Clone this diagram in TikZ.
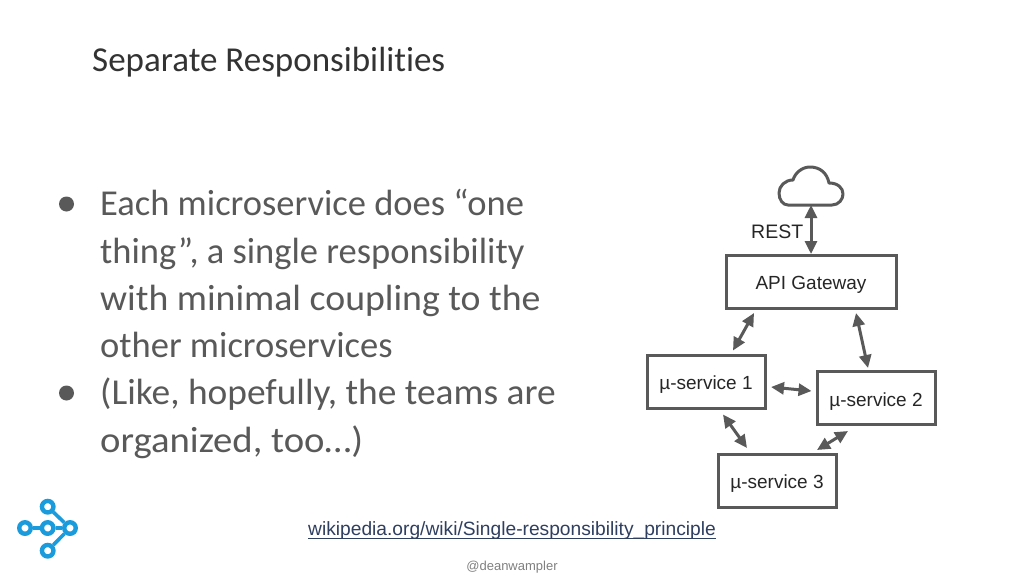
\documentclass[tikz,border=0pt]{standalone}
\usepackage{fontspec}
\setmainfont{Carlito}[Ligatures=NoCommon]
\newfontfamily\arialf{Liberation Sans}
\usetikzlibrary{arrows.meta}
\definecolor{ink}{HTML}{595959}
\definecolor{logoblue}{HTML}{1A9BDC}
\definecolor{linkc}{HTML}{2F3F60}
\tikzset{
  x=1pt,y=-1pt,
  svc/.style={draw=ink,line width=3pt,fill=white,minimum width=118pt,minimum height=53pt,inner sep=0pt,font=\arialf\fontsize{19}{21}\selectfont,text=black!85,text height=15pt,text depth=0pt},
  gate/.style={svc,minimum width=170pt},
  dbl/.style={draw=ink,line width=3pt,{Triangle[length=13pt,width=12pt]}-{Triangle[length=13pt,width=12pt]}},
  bodyline/.style={anchor=base west,inner sep=0pt,text=ink,font=\fontsize{36.5}{40}\selectfont},
  bulletdot/.style={circle,fill=ink,draw=none,minimum size=15pt,inner sep=0pt},
  ringn/.style={circle,draw=logoblue,line width=4.4pt,fill=white,minimum size=11.5pt,inner sep=0pt},
  logoline/.style={draw=logoblue,line width=3.6pt},
}
\begin{document}
\begin{tikzpicture}
\useasboundingbox (0,0) rectangle (1024,576);
\fill[white] (0,0) rectangle (1024,576);
\node[anchor=base west,inner sep=0pt,text=black!80,font=\fontsize{35}{38}\selectfont] (title) at (92,71) {Separate Responsibilities};
\node[bulletdot] (b1) at (66.5,204) {};
\node[bulletdot] (b2) at (66.5,393) {};
\node[bodyline] (l1) at (100,215) {Each microservice does “one};
\node[bodyline] (l2) at (100,263) {thing”, a single responsibility};
\node[bodyline,xscale=1.035] (l3) at (100,310) {with minimal coupling to the};
\node[bodyline] (l4) at (100,357) {other microservices};
\node[bodyline,xscale=1.025] (l5) at (100,404) {(Like, hopefully, the teams are};
\node[bodyline,xscale=1.06] (l6) at (100,452) {organized, too…)};
% logo
\node[ringn] (r1) at (47.7,506.7) {};
\node[ringn] (r2) at (25,528) {};
\node[ringn] (r3) at (47.7,528) {};
\node[ringn] (r4) at (70,528) {};
\node[ringn] (r5) at (47.7,550.7) {};
\draw[logoline] (r1) -- (r4) (r5) -- (r4) (r2) -- (r3) -- (r4);
% cloud
\coordinate (cloud) at (811,205);
\draw[ink,line width=3pt,fill=white,line join=round] (788,205) -- (832,205) .. controls (839,205) and (843,199) .. (843,194) .. controls (843,188) and (838,183) .. (829,183) .. controls (827,173) and (820,167) .. (810,167) .. controls (802,167) and (795,173) .. (793,180) .. controls (785,180) and (779,186) .. (779,193) .. controls (779,200) and (783,205) .. (788,205) -- cycle;
% boxes
\node[gate] (gw) at (811,282) {API Gateway};
\node[svc] (s1) at (706,381.5) {µ-service 1};
\node[svc,text height=16pt] (s2) at (876,398) {µ-service 2};
\node[svc] (s3) at (777,481) {µ-service 3};
\node[anchor=base west,inner sep=0pt,text=black!85,font=\arialf\fontsize{19.5}{21}\selectfont] (rest) at (751,238) {REST};
% connectors
\draw[dbl] (cloud) -- (gw.north);
\draw[dbl] ([shift={(-57,3)}]gw.south) -- ([shift={(27,-3)}]s1.north);
\draw[dbl] ([shift={(45,3)}]gw.south) -- ([shift={(-8,-2)}]s2.north);
\draw[dbl] ([shift={(4.5,5.5)}]s1.east) -- ([shift={(-4,-7)}]s2.west);
\draw[dbl] ([shift={(17,5)}]s1.south) -- ([shift={(-30,-5)}]s3.north);
\draw[dbl] ([shift={(-28,5)}]s2.south) -- ([shift={(40,-3)}]s3.north);
% link
\node[anchor=base west,inner sep=0pt,text=linkc,font=\arialf\fontsize{19.2}{21}\selectfont] (link) at (308,535) {wikipedia.org/wiki/Single-responsibility\_principle};
\draw[linkc,line width=1pt] ([shift={(0,3)}]link.base west) -- ([shift={(0,3)}]link.base east);
\node[anchor=base,inner sep=0pt,text=black!50,font=\arialf\fontsize{13}{15}\selectfont] (handle) at (512,570) {@deanwampler};
\end{tikzpicture}
\end{document}
